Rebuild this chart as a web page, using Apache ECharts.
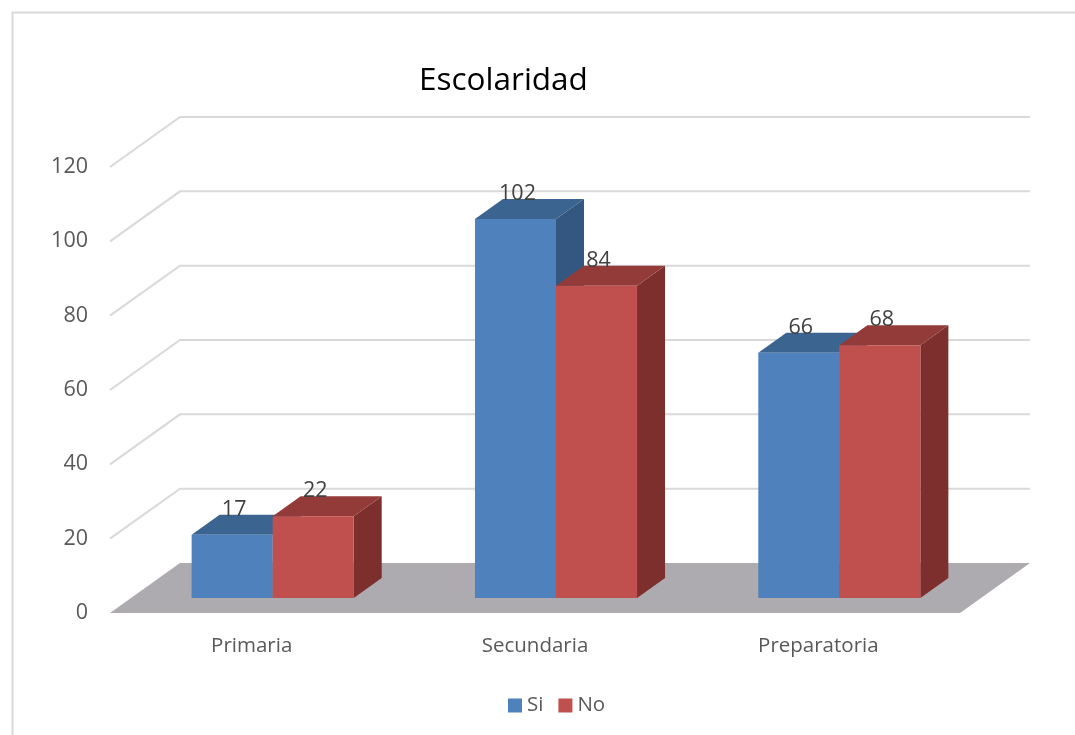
<!DOCTYPE html>
<html>
<head>
<meta charset="utf-8">
<script src="https://cdn.jsdelivr.net/npm/echarts@6/dist/echarts.min.js"></script>
<style>html,body{margin:0;padding:0;background:#fff;}#chart{width:1075px;height:735px;}</style>
</head>
<body>
<div id="chart"></div>
<script>
const categories = ['Primaria', 'Secundaria', 'Preparatoria'];
const siValues = [17, 102, 66];
const noValues = [22, 84, 68];
const yTicks = [0, 20, 40, 60, 80, 100, 120];
const seriesNames = ['Si', 'No'];

const FONT = '"Open Sans", "Noto Sans", sans-serif';
const WALL_DX = 70, WALL_DY = -50;     // back wall offset from front plane
const FRONT_DX = 21, FRONT_DY = -15;   // bar front face offset from front plane
const BAR_DX = 28, BAR_DY = -20;       // bar depth
const BAR_FRAC = 0.286;                // bar width as fraction of band

const chart = echarts.init(document.getElementById('chart'), null, { renderer: 'canvas' });

function wallItem(params, api) {
  const v = api.value(1);
  const cs = params.coordSys;
  const p = api.coord([0, v]);
  const x0 = cs.x, x1 = cs.x + cs.width, y = p[1];
  if (v === 0) {
    return {
      type: 'polygon',
      shape: { points: [[x0, y], [x1, y], [x1 + WALL_DX, y + WALL_DY], [x0 + WALL_DX, y + WALL_DY]] },
      style: { fill: '#ADAAB0' }
    };
  }
  return {
    type: 'polyline',
    shape: { points: [[x0, y], [x0 + WALL_DX, y + WALL_DY], [x1 + WALL_DX, y + WALL_DY]] },
    style: { stroke: '#D9D9D9', lineWidth: 2, fill: null }
  };
}

function barRenderer(sideIdx, cFront, cTop, cSide) {
  return function (params, api) {
    const i = api.value(0), v = api.value(1);
    const pTop = api.coord([i, v]);
    const pBase = api.coord([i, 0]);
    const band = api.size([1, 0])[0];
    const w = band * BAR_FRAC;
    const x0 = (sideIdx === 0 ? pTop[0] - w : pTop[0]) + FRONT_DX;
    const x1 = x0 + w;
    const yT = pTop[1] + FRONT_DY;
    const yB = pBase[1] + FRONT_DY;
    return {
      type: 'group',
      children: [
        { type: 'polygon', shape: { points: [[x1, yT], [x1 + BAR_DX, yT + BAR_DY], [x1 + BAR_DX, yB + BAR_DY], [x1, yB]] }, style: { fill: cSide } },
        { type: 'polygon', shape: { points: [[x0, yT], [x1, yT], [x1 + BAR_DX, yT + BAR_DY], [x0 + BAR_DX, yT + BAR_DY]] }, style: { fill: cTop } },
        { type: 'rect', shape: { x: x0, y: yT, width: w, height: yB - yT }, style: { fill: cFront } },
        { type: 'text', style: { text: String(v), x: (x0 + x1) / 2 + 2, y: yT + BAR_DY - 5, align: 'center', verticalAlign: 'middle', fill: '#404040', fontSize: 21.5, fontFamily: FONT } }
      ]
    };
  };
}

const option = {
  backgroundColor: '#fff',
  animation: false,
  title: {
    text: 'Escolaridad',
    left: 414, top: 60,
    textStyle: { fontFamily: FONT, fontSize: 31.5, fontWeight: 'normal', color: '#000' }
  },
  legend: {
    data: seriesNames,
    left: 503, top: 690,
    icon: 'rect', itemWidth: 14, itemHeight: 14, itemGap: 15,
    textStyle: { fontFamily: FONT, fontSize: 20.5, color: '#595959' }
  },
  grid: { left: 110, right: 115, top: 167, bottom: 122 },
  xAxis: {
    type: 'category',
    data: categories,
    axisLine: { show: false }, axisTick: { show: false }, splitLine: { show: false },
    axisLabel: { fontFamily: FONT, fontSize: 20.5, color: '#595959', margin: 23 }
  },
  yAxis: {
    type: 'value', min: 0, max: 120, interval: 20,
    axisLine: { show: false }, axisTick: { show: false }, splitLine: { show: false },
    axisLabel: { fontFamily: FONT, fontSize: 21.5, color: '#595959', margin: 22 }
  },
  graphic: [{
    type: 'rect', left: 10, top: 10, shape: { width: 1080, height: 740 },
    style: { fill: null, stroke: '#D9D9D9', lineWidth: 2 }, silent: true, z: -1
  }],
  series: [
    {
      type: 'custom', name: 'wall', clip: false, z: 1, silent: true,
      renderItem: wallItem,
      data: yTicks.map(v => [0, v])
    },
    {
      type: 'custom', name: 'Si', clip: false, z: 2,
      itemStyle: { color: '#4F81BD' },
      renderItem: barRenderer(0, '#4F81BD', '#3C6490', '#335781'),
      data: siValues.map((v, i) => [i, v])
    },
    {
      type: 'custom', name: 'No', clip: false, z: 3,
      itemStyle: { color: '#C0504D' },
      renderItem: barRenderer(1, '#C0504D', '#933B39', '#7D2F2D'),
      data: noValues.map((v, i) => [i, v])
    }
  ]
};
chart.setOption(option);
</script>
</body>
</html>
